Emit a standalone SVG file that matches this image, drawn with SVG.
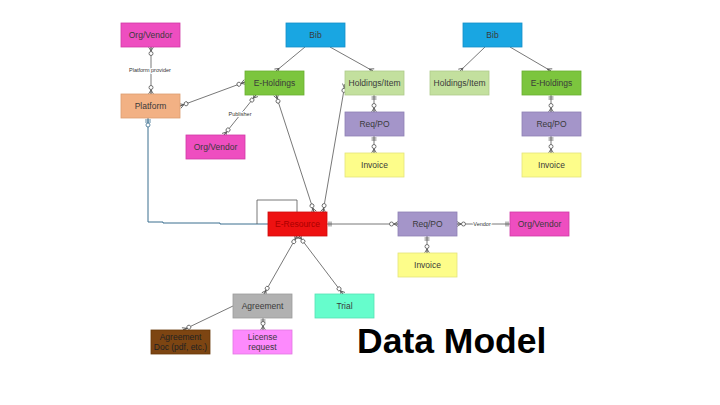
<svg xmlns="http://www.w3.org/2000/svg" width="720" height="405" viewBox="0 0 720 405">
<style>
.n{stroke-width:0.8}
.t{font-family:"Liberation Sans",Arial,sans-serif;font-size:8.5px;fill:#3a3a3a;text-anchor:middle;dominant-baseline:central}
.l{font-family:"Liberation Sans",Arial,sans-serif;font-size:5.5px;fill:#333;text-anchor:middle;dominant-baseline:central}
.c{fill:none;stroke:#555;stroke-width:0.8}
.b{fill:none;stroke:#3a6e8f;stroke-width:1}
</style>
<defs>
<marker id="oc" markerUnits="userSpaceOnUse" viewBox="0 -4 11 8" refX="10" refY="0" markerWidth="11" markerHeight="8" orient="auto-start-reverse">
<path d="M6,0 L10,-2.5 M6,0 L10,2.5 M5.5,0 L10,0" fill="none" stroke="#555" stroke-width="0.8"/>
<circle cx="3.5" cy="0" r="2" fill="#fff" stroke="#555" stroke-width="0.8"/>
</marker>
<marker id="ar" markerUnits="userSpaceOnUse" viewBox="0 -4 11 8" refX="10" refY="0" markerWidth="11" markerHeight="8" orient="auto-start-reverse">
<path d="M6,0 L10,-2.5 M6,0 L10,2.5 M6,0 L10,0" fill="none" stroke="#555" stroke-width="0.8"/>
</marker>
<marker id="bb" markerUnits="userSpaceOnUse" viewBox="0 -4 11 8" refX="10" refY="0" markerWidth="11" markerHeight="8" orient="auto-start-reverse">
<path d="M6,-2.5 L6,2.5 M8,-2.5 L8,2.5" fill="none" stroke="#555" stroke-width="0.8"/>
</marker>
<marker id="bo" markerUnits="userSpaceOnUse" viewBox="0 -5 11 10" refX="10" refY="0" markerWidth="11" markerHeight="10" orient="auto-start-reverse">
<path d="M6,-3 L6,3 M8,-3 L8,3" fill="none" stroke="#3a6e8f" stroke-width="0.8"/>
<circle cx="3" cy="0" r="2" fill="#fff" stroke="#3a6e8f" stroke-width="0.8"/>
</marker>
</defs>
<rect width="720" height="405" fill="#fff"/>
<g id="connectors">
<line class="c" x1="151" y1="47" x2="151" y2="94" marker-start="url(#oc)" marker-end="url(#oc)"/>
<text class="l" x="150" y="70" style="fill:#fff;stroke:#fff;stroke-width:2">Platform provider</text>
<text class="l" x="150" y="70">Platform provider</text>
<line class="c" x1="180" y1="106" x2="245" y2="82" marker-start="url(#oc)" marker-end="url(#oc)"/>
<line class="c" x1="305" y1="47" x2="276" y2="71" marker-end="url(#ar)"/>
<line class="c" x1="330" y1="47" x2="373" y2="71" marker-end="url(#ar)"/>
<line class="c" x1="224" y1="135" x2="256" y2="95" marker-start="url(#oc)" marker-end="url(#oc)"/>
<text class="l" x="240" y="114" style="fill:#fff;stroke:#fff;stroke-width:2">Publisher</text>
<text class="l" x="240" y="114">Publisher</text>
<line class="c" x1="276" y1="95" x2="314" y2="212" marker-start="url(#oc)" marker-end="url(#oc)"/>
<line class="c" x1="345" y1="84" x2="323" y2="212" marker-start="url(#oc)" marker-end="url(#oc)"/>
<line class="c" x1="374" y1="95" x2="374" y2="112" marker-start="url(#bb)" marker-end="url(#oc)"/>
<line class="c" x1="374" y1="136" x2="374" y2="153" marker-start="url(#bb)" marker-end="url(#oc)"/>
<line class="c" x1="485" y1="47" x2="460" y2="71" marker-end="url(#ar)"/>
<line class="c" x1="510" y1="47" x2="551" y2="71" marker-end="url(#ar)"/>
<line class="c" x1="551" y1="95" x2="551" y2="112" marker-start="url(#bb)" marker-end="url(#oc)"/>
<line class="c" x1="551" y1="136" x2="551" y2="153" marker-start="url(#bb)" marker-end="url(#oc)"/>
<path class="b" d="M148,118 L148,222 L163,222 L163,223 L220,223 L220,224 L268,224" marker-start="url(#bo)"/>
<path class="c" d="M257,224 L257,200 L297,200 L297,212"/>
<line class="c" x1="327" y1="224" x2="398" y2="224" marker-start="url(#bb)" marker-end="url(#oc)"/>
<line class="c" x1="457" y1="224" x2="510" y2="224" marker-start="url(#oc)" marker-end="url(#bb)"/>
<text class="l" x="482" y="224" style="fill:#fff;stroke:#fff;stroke-width:2">Vendor</text>
<text class="l" x="482" y="224">Vendor</text>
<line class="c" x1="427" y1="236" x2="427" y2="253" marker-start="url(#bb)" marker-end="url(#oc)"/>
<line class="c" x1="297" y1="236" x2="264" y2="294" marker-start="url(#oc)" marker-end="url(#oc)"/>
<line class="c" x1="299" y1="236" x2="343" y2="294" marker-start="url(#oc)" marker-end="url(#oc)"/>
<line class="c" x1="233" y1="306" x2="183" y2="330" marker-end="url(#oc)"/>
<line class="c" x1="263" y1="318" x2="263" y2="330" marker-start="url(#bb)" marker-end="url(#oc)"/>
</g>
<g id="orgvendor1"><rect class="n" x="121" y="23" width="59" height="24" fill="#ee4ec0" stroke="#d03aa6"/><text class="t" x="150.5" y="35">Org/Vendor</text></g>
<g id="bib1"><rect class="n" x="286" y="23" width="59" height="24" fill="#19a6e2" stroke="#1590c8"/><text class="t" x="315.5" y="35">Bib</text></g>
<g id="bib2"><rect class="n" x="463" y="23" width="59" height="24" fill="#19a6e2" stroke="#1590c8"/><text class="t" x="492.5" y="35">Bib</text></g>
<g id="eholdings1"><rect class="n" x="245" y="71" width="59" height="24" fill="#7cc53e" stroke="#6aae30"/><text class="t" x="274.5" y="83">E-Holdings</text></g>
<g id="holdings1"><rect class="n" x="345" y="71" width="59" height="24" fill="#c3e09e" stroke="#aecb8a"/><text class="t" x="374.5" y="83">Holdings/Item</text></g>
<g id="reqpo1"><rect class="n" x="345" y="112" width="59" height="24" fill="#a495c9" stroke="#8e80b4"/><text class="t" x="374.5" y="124">Req/PO</text></g>
<g id="invoice1"><rect class="n" x="345" y="153" width="59" height="24" fill="#fdfd8a" stroke="#e4e47a"/><text class="t" x="374.5" y="165">Invoice</text></g>
<g id="holdings2"><rect class="n" x="430" y="71" width="59" height="24" fill="#c3e09e" stroke="#aecb8a"/><text class="t" x="459.5" y="83">Holdings/Item</text></g>
<g id="eholdings2"><rect class="n" x="522" y="71" width="59" height="24" fill="#7cc53e" stroke="#6aae30"/><text class="t" x="551.5" y="83">E-Holdings</text></g>
<g id="reqpo2"><rect class="n" x="522" y="112" width="59" height="24" fill="#a495c9" stroke="#8e80b4"/><text class="t" x="551.5" y="124">Req/PO</text></g>
<g id="invoice2"><rect class="n" x="522" y="153" width="59" height="24" fill="#fdfd8a" stroke="#e4e47a"/><text class="t" x="551.5" y="165">Invoice</text></g>
<g id="platform"><rect class="n" x="121" y="94" width="59" height="24" fill="#f2b184" stroke="#dc9d70"/><text class="t" x="150.5" y="106">Platform</text></g>
<g id="orgvendor2"><rect class="n" x="186" y="135" width="59" height="24" fill="#ee4ec0" stroke="#d03aa6"/><text class="t" x="215.5" y="147">Org/Vendor</text></g>
<g id="eresource"><rect class="n" x="268" y="212" width="59" height="24" fill="#ee1111" stroke="#cc0a0a"/><text class="t" x="297.5" y="224" style="fill:#a00">E-Resource</text></g>
<g id="reqpo3"><rect class="n" x="398" y="212" width="59" height="24" fill="#a495c9" stroke="#8e80b4"/><text class="t" x="427.5" y="224">Req/PO</text></g>
<g id="orgvendor3"><rect class="n" x="510" y="212" width="59" height="24" fill="#ee4ec0" stroke="#d03aa6"/><text class="t" x="539.5" y="224">Org/Vendor</text></g>
<g id="invoice3"><rect class="n" x="398" y="253" width="59" height="24" fill="#fdfd8a" stroke="#e4e47a"/><text class="t" x="427.5" y="265">Invoice</text></g>
<g id="agreement"><rect class="n" x="233" y="294" width="59" height="24" fill="#b1b1b1" stroke="#9c9c9c"/><text class="t" x="262.5" y="306">Agreement</text></g>
<g id="trial"><rect class="n" x="315" y="294" width="59" height="24" fill="#66fdcc" stroke="#55e0b4"/><text class="t" x="344.5" y="306">Trial</text></g>
<g id="agreementdoc"><rect class="n" x="151" y="330" width="59" height="24" fill="#7d4512" stroke="#673808"/><text class="t" x="180.5" y="336.5" style="fill:#222">Agreement</text><text class="t" x="180.5" y="347" style="fill:#222">Doc (pdf, etc.)</text></g>
<g id="license"><rect class="n" x="233" y="330" width="59" height="24" fill="#fd8afd" stroke="#e077e0"/><text class="t" x="262.5" y="336.5">License</text><text class="t" x="262.5" y="347">request</text></g>
<text x="357" y="353" style="font-family:'Liberation Sans',Arial,sans-serif;font-size:35.5px;font-weight:bold;fill:#000">Data Model</text>
</svg>
